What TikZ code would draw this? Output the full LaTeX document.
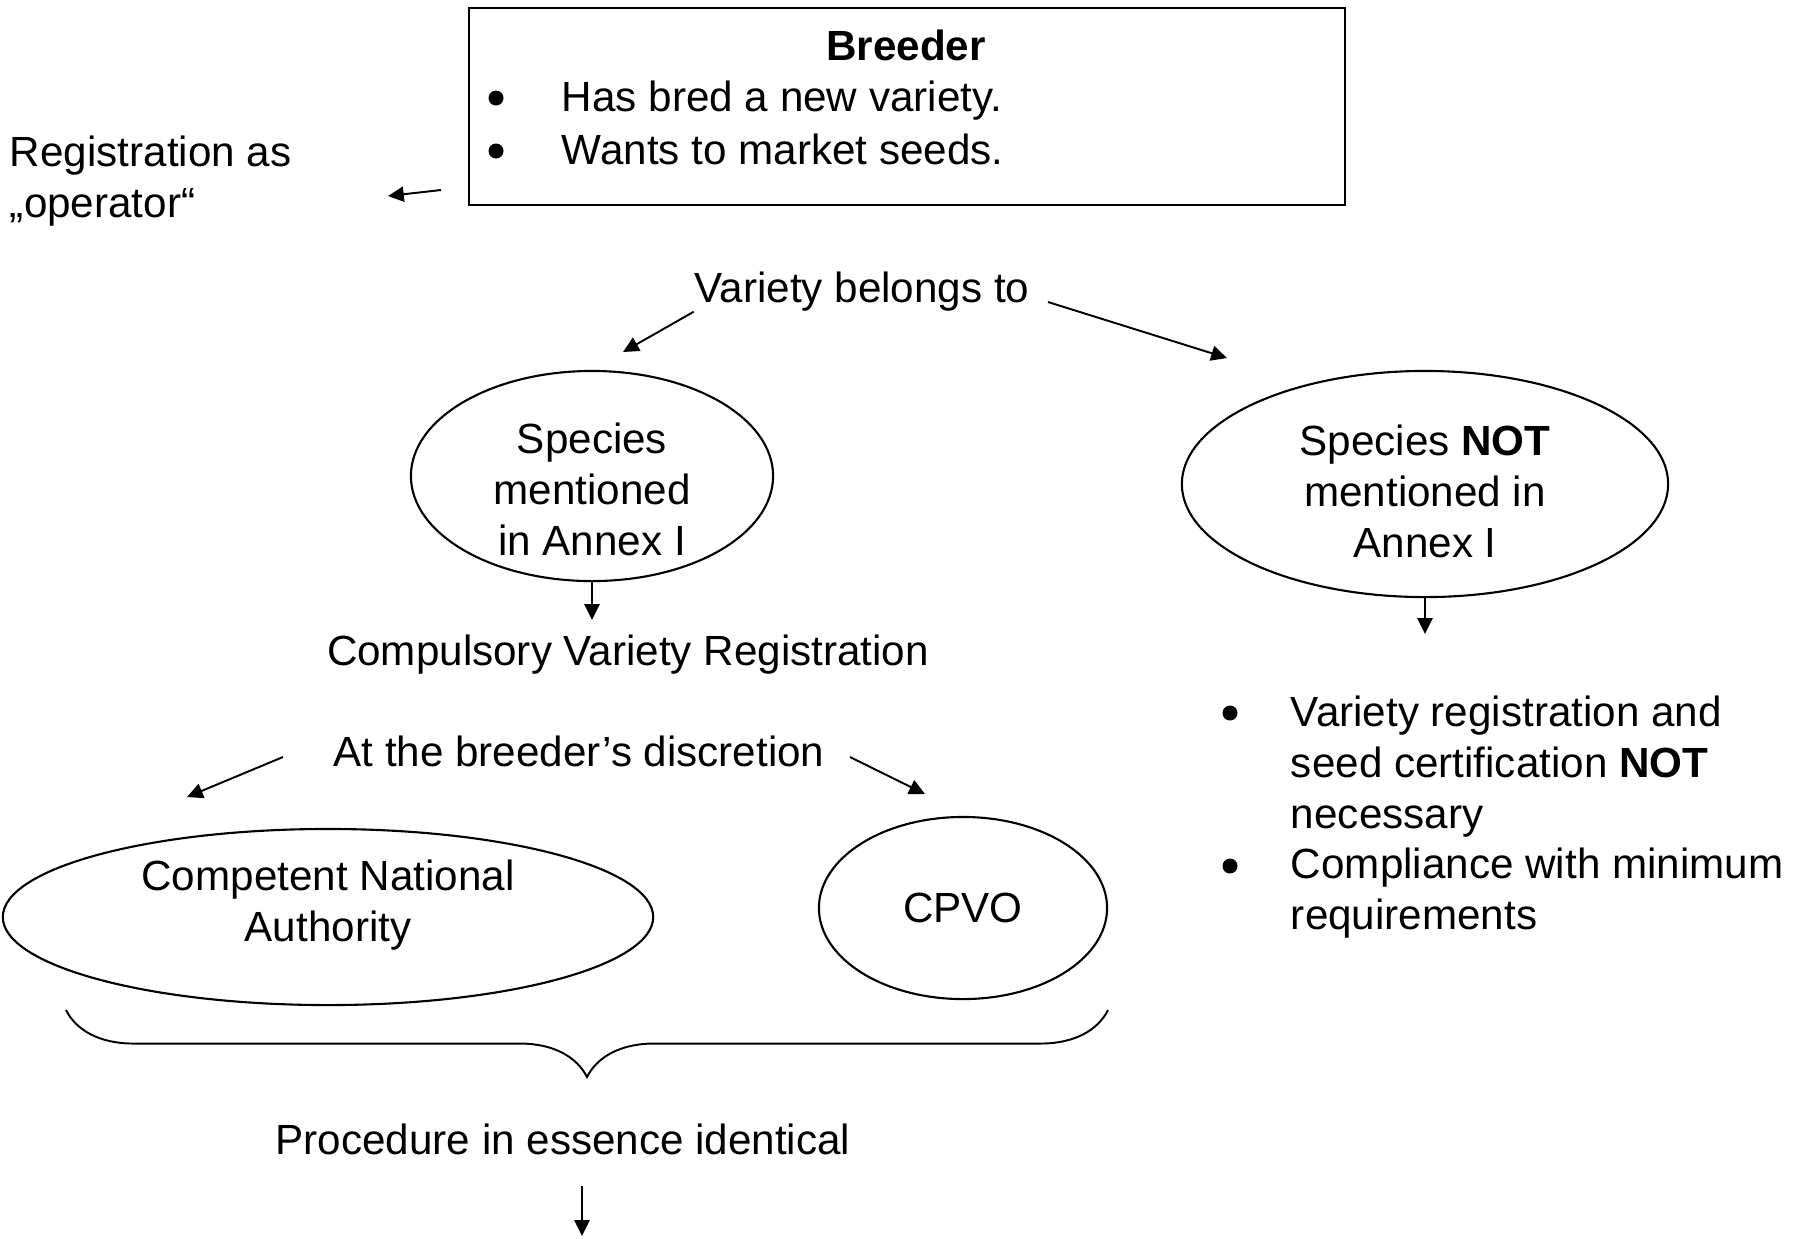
\documentclass[tikz,border=0pt]{standalone}
\usepackage{fontspec}
\setmainfont{Liberation Sans}
\usepackage{tikz}
\usetikzlibrary{shapes,arrows.meta,decorations.pathreplacing,positioning}
\tikzset{
    box/.style={
           rectangle,
           draw=black, line width=0.6pt,
           minimum width=8.76cm,
           minimum height=1.97cm
           },
    oval/.style={
           ellipse,
           draw=black, line width=0.6pt,
           inner xsep=0pt, inner ysep=-0.15cm,
           align=center,
           font=\fontsize{12}{14.4}\selectfont
           },
    txt/.style={
           inner sep=0pt,
           font=\fontsize{12}{14.4}\selectfont
           },
    point/.style={
           circle,
           inner sep=0pt,
           minimum size=0.15cm,
           fill
           }
}
\begin{document}
\begin{tikzpicture}[x=0.01cm, y=-0.01cm, >={Triangle[length=4.5pt,width=4.3pt]}, line width=0.55pt]
\useasboundingbox (0,0) rectangle (1806,1238);
   % breeder box
   \node[box] (breeder) at (907,106.5) {};
   \node[txt, anchor=base] (title) at (906,60) {\textbf{Breeder}};
   \node[point] (d1) at (496,98) {};
   \node[point] (d2) at (496,151) {};
   \node[txt, anchor=base west] (bred) at (561,111) {Has bred a new variety.};
   \node[txt, anchor=base west] (want) at (561,164) {Wants to market seeds.};
   \node[txt, anchor=base west, align=left] (reg) at (9,217) {Registration as\\„operator“};
   % species
   \node[txt, anchor=base] (belongs) at (862,302) {Variety belongs to};
   \node[oval, minimum width=3.62cm, minimum height=2.10cm, text height=1.58cm, text depth=0cm] (specA) at (592,476) {Species\\mentioned\\in Annex I};
   \node[oval, minimum width=4.86cm, minimum height=2.26cm, text height=1.46cm, text depth=0cm] (specB) at (1425,484) {Species \textbf{NOT}\\mentioned in\\Annex I};
   \node[txt, anchor=base] (comp) at (628,665) {Compulsory Variety Registration};
   \node[point] (d3) at (1230,713) {};
   \node[point] (d4) at (1230,866) {};
   \node[txt, anchor=base west, align=left] (free) at (1290,828) {Variety registration and\\seed certification \textbf{NOT}\\necessary};
   \node[txt, anchor=base west, align=left] (minreq) at (1290,929) {Compliance with minimum\\requirements};
   % authorities
   \node[txt, anchor=base] (disc) at (579,766) {At the breeder’s discretion};
   \node[oval, minimum width=6.50cm, minimum height=1.76cm, text height=0.83cm, text depth=0.35cm] (cna) at (328,917) {Competent National\\Authority};
   \node[oval, minimum width=2.88cm, minimum height=1.82cm] (cpvo) at (963,908) {CPVO};
   \node[txt, anchor=base] (proc) at (563,1154) {Procedure in essence identical};
   % arrow ends
   \coordinate (regTail) at (441,190);
   \coordinate (regTip) at (388,196);
   \coordinate (leftTip) at (623,352);
   \coordinate (rightTail) at (1048,302);
   \coordinate (rightTip) at (1227,358);
   \coordinate (compTip) at (592,620);
   \coordinate (notTip) at (1425,634);
   \coordinate (cnaTail) at (283,757);
   \coordinate (cnaTip) at (187,797);
   \coordinate (cpvoTail) at (850,757);
   \coordinate (cpvoTip) at (925,794);
   \coordinate (braceL) at (66,1010);
   \coordinate (braceR) at (1108,1010);
   \coordinate (procTail) at (582,1186);
   \coordinate (procTip) at (582,1236);
   \path[->]
    (regTail) edge (regTip)
    (belongs.south west) edge (leftTip)
    (rightTail) edge (rightTip)
    (specA.south) edge (compTip)
    (specB.south) edge (notTip)
    (cnaTail) edge (cnaTip)
    (cpvoTail) edge (cpvoTip)
    (procTail) edge (procTip);
   \draw[decorate, decoration={brace, amplitude=0.67cm, aspect=0.5}] (braceR) -- (braceL);
\end{tikzpicture}
\end{document}
